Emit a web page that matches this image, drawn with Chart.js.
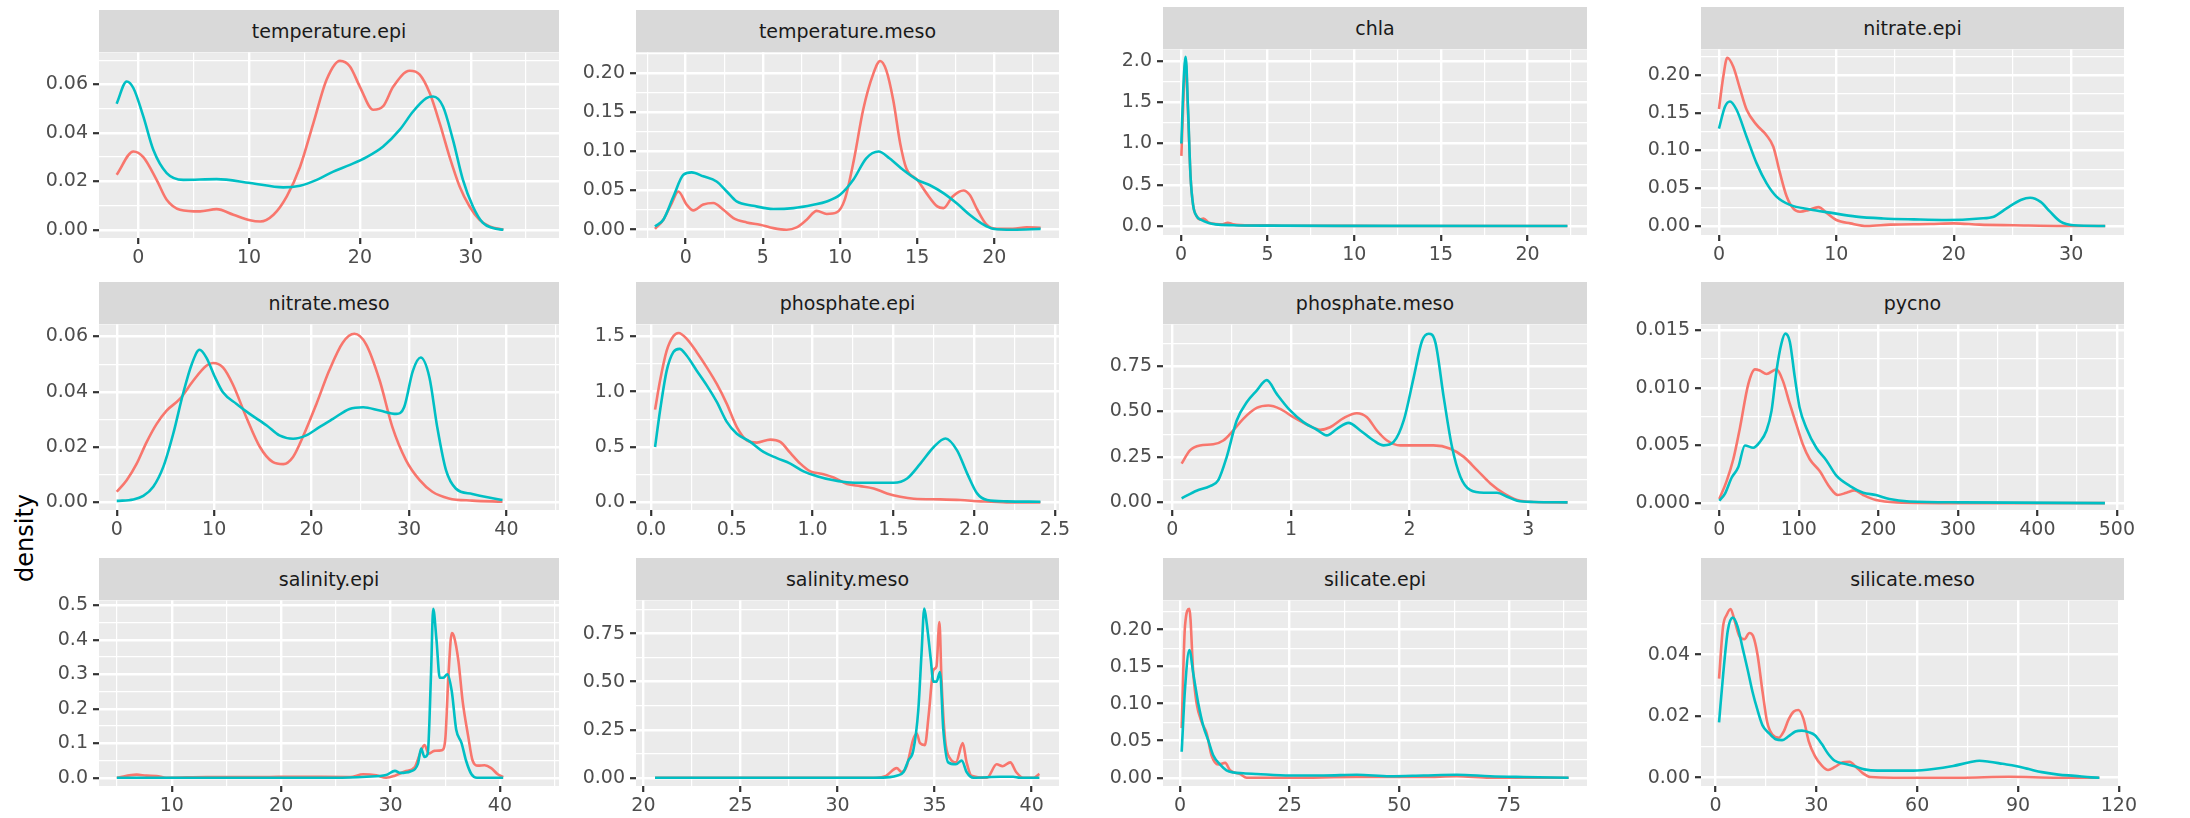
<!DOCTYPE html>
<html><head><meta charset="utf-8">
<script src="https://cdn.jsdelivr.net/npm/chart.js@4.4.1/dist/chart.umd.min.js"></script>
<style>
html,body{margin:0;padding:0;background:#fff;}
body{width:2190px;height:818px;overflow:hidden;position:relative;font-family:"DejaVu Sans",sans-serif;}
.strip{position:absolute;background:#D9D9D9;color:#1A1A1A;font-size:19px;display:flex;align-items:center;justify-content:center;white-space:nowrap;}
.wrap{position:absolute;}
.ytitle{position:absolute;font-size:24px;color:#000;transform:rotate(-90deg);transform-origin:center center;white-space:nowrap;}
</style></head><body>
<div class="ytitle" id="ytitle">density</div>
<script>
// ---------------- DATA ----------------
const panelTitles = ['temperature.epi','temperature.meso','chla','nitrate.epi','nitrate.meso','phosphate.epi','phosphate.meso','pycno','salinity.epi','salinity.meso','silicate.epi','silicate.meso'];

// temperature.epi
const tempEpiRedX = [-1.96,-0.45,0.45,1.65,2.56,3.76,5.57,7.07,8.58,10.08,11,12.2,13.4,14.6,15.8,17.0,18.2,19.1,20.0,21.2,22.1,23.0,24.5,25.4,26.3,27.2,28.1,29.0,29.9,30.8,31.7,32.95];
const tempEpiRedY = [0.0227,0.0323,0.030,0.0206,0.0124,0.0083,0.0076,0.0085,0.0062,0.0039,0.0034,0.0062,0.0138,0.026,0.044,0.062,0.0697,0.0674,0.059,0.0495,0.051,0.059,0.0656,0.064,0.0564,0.044,0.030,0.0179,0.0096,0.0041,0.0014,0.0];
const tempEpiTealX = [-1.96,-1.05,-0.45,0.45,1.35,2.56,4.06,7.07,10.08,13.09,14.6,16.1,17.6,19.1,20.6,22.1,23.6,24.8,26.0,26.6,27.5,28.4,29.3,30.2,31.1,32.0,32.95];
const tempEpiTealY = [0.052,0.0612,0.0585,0.0468,0.033,0.0234,0.0206,0.0209,0.0193,0.0175,0.0182,0.0206,0.024,0.0268,0.030,0.0344,0.0413,0.0488,0.0543,0.055,0.0509,0.0371,0.0206,0.0096,0.0028,0.0007,0.0];

// temperature.meso
const tempMesoRedX = [-1.99,-1.45,-0.9,-0.48,0.06,0.5,1.14,1.79,2.44,3.09,3.95,4.82,5.68,6.54,7.19,7.84,8.49,9.14,9.78,10.3,10.9,11.5,12.16,12.6,13.0,13.45,13.9,14.3,15.0,15.6,16.3,16.7,17.3,18.0,18.4,18.9,19.5,20.2,21.2,22.1,23.0];
const tempMesoRedY = [0.001,0.0127,0.034,0.0487,0.032,0.0246,0.032,0.034,0.0254,0.0148,0.0093,0.0064,0.002,0.0,0.003,0.0127,0.024,0.020,0.022,0.038,0.089,0.153,0.199,0.215,0.203,0.165,0.11,0.078,0.0636,0.0466,0.0297,0.0275,0.0424,0.05,0.0445,0.0254,0.0064,0.001,0.001,0.003,0.0025];
const tempMesoTealX = [-1.99,-1.45,-0.8,-0.15,0.39,1.14,2.0,2.66,3.3,4.38,5.68,6.98,8.27,9.14,10.0,10.86,11.7,12.5,13.2,14.1,15.0,15.8,16.7,17.6,18.4,19.3,19.9,21.2,23.0];
const tempMesoTealY = [0.004,0.0127,0.042,0.070,0.073,0.068,0.0614,0.0487,0.036,0.0305,0.0263,0.0275,0.0318,0.036,0.0445,0.0636,0.091,0.0996,0.091,0.076,0.0636,0.057,0.0466,0.033,0.019,0.0064,0.0013,0.0,0.001];

// chla
const chlaRedX = [0.02,0.15,0.27,0.4,0.55,0.7,0.9,1.1,1.3,1.6,2.0,2.4,2.7,3.0,4.0,5.0,6.0,10.0,15.0,22.3];
const chlaRedY = [0.85,1.6,2.0,1.4,0.6,0.25,0.12,0.08,0.09,0.04,0.025,0.02,0.04,0.02,0.008,0.01,0.003,0.001,0.0,0.0];
const chlaTealX = [0.02,0.15,0.27,0.4,0.55,0.7,0.9,1.2,1.6,2.0,3.0,5.0,10.0,22.3];
const chlaTealY = [1.0,1.75,2.05,1.45,0.6,0.25,0.12,0.07,0.035,0.02,0.01,0.004,0.001,0.0];

// nitrate.epi
const nitEpiRedX = [0,0.37,0.71,1.22,1.79,2.36,3.21,4.06,4.63,5.2,5.77,6.34,6.9,7.6,8.47,9.2,10.0,11.2,12.6,14.6,18,20,22.2,25.1,29.3,32.9];
const nitEpiRedY = [0.155,0.198,0.223,0.211,0.182,0.154,0.134,0.12,0.105,0.07,0.039,0.023,0.019,0.021,0.025,0.017,0.008,0.0035,0.0,0.0018,0.0026,0.0035,0.0018,0.001,0.0,0.0];
const nitEpiTealX = [0,0.51,0.94,1.5,2.36,3.21,4.06,4.9,6.05,7.76,9.46,11.7,14.0,16.6,19.4,22.2,23.4,24.5,25.7,26.5,27.4,28.2,29.1,30.2,32.9];
const nitEpiTealY = [0.129,0.158,0.165,0.154,0.118,0.083,0.0565,0.039,0.028,0.022,0.0177,0.0124,0.010,0.0088,0.008,0.010,0.0124,0.0234,0.0344,0.0375,0.032,0.019,0.0057,0.001,0.0];

// nitrate.meso
const nitMesoRedX = [0,1.02,2.05,3.07,4.1,5.12,6.48,7.85,9.2,9.9,10.9,11.9,13.3,14.7,16.0,17.1,18.1,19.1,20.5,21.8,23.2,24.4,25.6,27.0,28.3,29.7,31.1,32.4,34.1,36.5,39.6];
const nitMesoRedY = [0.0038,0.008,0.014,0.0218,0.0284,0.0332,0.0374,0.044,0.0494,0.0504,0.0488,0.0428,0.0308,0.020,0.0146,0.0138,0.0164,0.0236,0.0356,0.0476,0.0578,0.061,0.0572,0.044,0.0272,0.0152,0.008,0.0038,0.0014,0.0006,0.0002];
const nitMesoTealX = [0,1.7,2.73,3.75,4.78,5.8,6.8,7.7,8.5,9.2,10.1,10.9,12.3,13.65,15.4,16.7,18.1,19.45,20.8,22.2,23.9,25.3,27.0,28.7,29.5,30.4,31.2,32.1,32.9,33.8,34.8,36.5,38.2,39.6];
const nitMesoTealY = [0.0005,0.001,0.0023,0.0056,0.0128,0.0248,0.0392,0.050,0.0552,0.0524,0.0452,0.0398,0.0356,0.032,0.0278,0.0242,0.023,0.0242,0.0272,0.0302,0.0338,0.0344,0.0332,0.032,0.0344,0.0476,0.0524,0.0452,0.0272,0.0116,0.005,0.003,0.0017,0.0008];

// phosphate.epi
const phosEpiRedX = [0.025,0.056,0.097,0.138,0.17,0.22,0.283,0.345,0.407,0.469,0.531,0.593,0.655,0.738,0.8,0.862,0.924,0.986,1.068,1.13,1.213,1.295,1.378,1.46,1.543,1.626,1.79,1.915,2.04,2.2,2.41];
const phosEpiRedY = [0.838,1.10,1.37,1.50,1.53,1.48,1.357,1.22,1.07,0.89,0.68,0.56,0.54,0.567,0.546,0.447,0.35,0.28,0.255,0.225,0.165,0.147,0.126,0.081,0.051,0.033,0.027,0.021,0.009,0.0,0.0];
const phosEpiTealX = [0.025,0.056,0.097,0.138,0.176,0.22,0.283,0.345,0.407,0.469,0.531,0.614,0.696,0.779,0.862,0.944,1.027,1.13,1.233,1.378,1.502,1.585,1.667,1.75,1.822,1.894,1.957,2.018,2.08,2.2,2.41];
const phosEpiTealY = [0.50,0.83,1.19,1.357,1.387,1.327,1.19,1.057,0.907,0.727,0.62,0.547,0.456,0.40,0.35,0.28,0.237,0.20,0.18,0.177,0.177,0.216,0.35,0.50,0.577,0.47,0.26,0.081,0.021,0.009,0.006];

// phosphate.meso
const phosMesoRedX = [0.079,0.149,0.233,0.346,0.43,0.514,0.598,0.711,0.81,0.908,1.02,1.133,1.246,1.33,1.443,1.555,1.64,1.724,1.809,1.921,2.062,2.2,2.343,2.456,2.568,2.68,2.793,2.906,3.047,3.33];
const phosMesoRedY = [0.213,0.286,0.313,0.319,0.34,0.395,0.459,0.519,0.532,0.514,0.468,0.428,0.399,0.413,0.463,0.49,0.468,0.395,0.34,0.313,0.313,0.313,0.295,0.25,0.177,0.104,0.049,0.013,0.002,0.0];
const phosMesoTealX = [0.079,0.205,0.318,0.388,0.459,0.543,0.627,0.711,0.796,0.88,0.993,1.105,1.218,1.302,1.387,1.485,1.584,1.696,1.781,1.865,1.95,2.034,2.104,2.16,2.217,2.287,2.357,2.428,2.512,2.625,2.737,2.821,2.906,3.047,3.33];
const phosMesoTealY = [0.022,0.064,0.089,0.122,0.25,0.45,0.55,0.614,0.672,0.596,0.505,0.441,0.399,0.368,0.404,0.437,0.395,0.34,0.313,0.332,0.45,0.687,0.887,0.927,0.878,0.577,0.304,0.14,0.067,0.053,0.053,0.031,0.009,0.002,0.0];

// pycno
const pycnoRedX = [0,9.2,17.6,25.9,36.4,44.8,51,59.4,72,80,88.7,97,105,113.8,126,139,149,160,170,181,197,223,300,485];
const pycnoRedY = [0.00035,0.0019,0.0038,0.0065,0.0103,0.0116,0.0115,0.0112,0.0116,0.0106,0.0086,0.0068,0.0051,0.0038,0.0028,0.00136,0.0007,0.0009,0.0011,0.0007,0.00026,0.00006,0.0,0.0];
const pycnoTealX = [0,7,15.5,23.8,32.2,42.7,51,59.4,65.7,72,78,83,88.7,95,101,109.6,122,134.7,147,164,181,197,214,239,306,485];
const pycnoTealY = [0.0002,0.0008,0.0022,0.0031,0.005,0.0048,0.0053,0.0063,0.008,0.0115,0.0138,0.0147,0.014,0.0109,0.0083,0.0065,0.0048,0.0037,0.0024,0.0015,0.0009,0.0007,0.00035,0.00014,0.00006,0.0];

// salinity.epi
const salEpiRedX = [4.98,6.8,7.7,8.6,9.5,13.2,18.4,21.1,26.3,27.5,28.7,29.6,30.4,31.3,32.2,32.7,33.1,33.5,34.0,34.7,35.0,35.3,35.6,35.8,36.2,36.6,37.1,37.5,38.0,38.6,39.2,39.8,40.3];
const salEpiRedY = [0,0.009,0.006,0.005,0,0.002,0.002,0.003,0.002,0.01,0.007,0,0.006,0.018,0.03,0.07,0.095,0.07,0.078,0.08,0.11,0.3,0.42,0.41,0.34,0.22,0.12,0.05,0.035,0.036,0.028,0.01,0.002];
const salEpiTealX = [4.98,10,20,25,27.8,29.6,30.4,30.9,31.8,32.5,32.8,33.1,33.4,33.7,33.9,34.2,34.5,34.8,35.2,35.6,36.0,36.5,36.9,37.4,37.9,40.3];
const salEpiTealY = [0,0,0,0,0.003,0.008,0.02,0.014,0.018,0.04,0.085,0.06,0.07,0.3,0.49,0.40,0.29,0.29,0.3,0.25,0.14,0.1,0.05,0.01,0,0];

// salinity.meso
const salMesoRedX = [20.6,32.0,32.5,33.05,33.3,33.56,33.9,34.08,34.25,34.5,34.7,34.94,35.1,35.25,35.36,35.54,35.8,36.1,36.45,36.65,36.9,37.7,38.2,38.5,38.9,39.2,39.57,40.1,40.4];
const salMesoRedY = [0,0,0.01,0.05,0.03,0.06,0.2,0.23,0.18,0.17,0.33,0.56,0.58,0.81,0.5,0.2,0.1,0.08,0.18,0.08,0.01,0,0.07,0.06,0.08,0.03,0,0,0.02];
const salMesoTealX = [20.6,31.85,32.7,33.05,33.4,33.65,33.9,34.16,34.33,34.47,34.6,34.8,34.94,35.1,35.28,35.45,35.7,36.1,36.4,36.65,37.0,38.4,39.05,39.4,40.4];
const salMesoTealY = [0,0,0.003,0.01,0.03,0.09,0.14,0.35,0.65,0.88,0.8,0.62,0.5,0.5,0.55,0.25,0.08,0.07,0.09,0.03,0,0.005,0.005,0,0];

// silicate.epi
const silEpiRedX = [0.38,1.14,2.13,3.04,3.8,4.94,6.08,7.2,8.7,10.3,11.4,13.7,15.2,25.1,40.3,55.5,63.1,70.7,88.6];
const silEpiRedY = [0.067,0.205,0.228,0.14,0.1,0.075,0.06,0.03,0.018,0.02,0.01,0.005,0,0,0.001,0.001,0.002,0,0];
const silEpiTealX = [0.38,1.14,2.13,3.04,4.18,5.3,6.46,7.6,9.1,10.6,12.2,14.4,17.5,25.1,32.7,40.3,47.9,55.5,63.1,70.7,78.3,88.6];
const silEpiTealY = [0.035,0.12,0.1725,0.14,0.1,0.07,0.05,0.03,0.018,0.01,0.007,0.006,0.005,0.003,0.003,0.004,0.002,0.003,0.004,0.002,0.001,0];

// silicate.meso
const silMesoRedX = [1.07,2.25,3.4,4.5,5.7,7.1,8.6,10.1,11.2,12.5,14.0,15.4,16.9,18.9,20.3,21.8,23.3,24.7,26.2,27.7,29.6,31.6,33.5,35.5,37.9,39.9,41.8,43.8,46.2,53.1,72.6,87.3,102,114.2];
const silMesoRedY = [0.0322,0.049,0.053,0.0548,0.051,0.046,0.045,0.047,0.046,0.04,0.028,0.018,0.014,0.013,0.015,0.019,0.0215,0.022,0.019,0.012,0.007,0.004,0.0025,0.0035,0.005,0.0052,0.0035,0.0015,0.0002,0,0,0.0003,0,0];
const silMesoTealX = [1.07,2.25,3.7,5.2,6.6,8.1,9.6,11.0,12.5,14.0,15.9,17.9,19.8,21.8,23.8,25.7,27.7,29.6,31.6,33.5,35.5,38.4,41.4,44.3,48.2,53.1,58.9,64.8,70.7,75.6,78.5,81.4,85.4,89.3,93.2,97.1,102,106.9,111.8,114.2];
const silMesoTealY = [0.018,0.033,0.048,0.052,0.049,0.042,0.035,0.028,0.022,0.017,0.0145,0.0125,0.0122,0.0135,0.015,0.0153,0.0148,0.0138,0.011,0.0078,0.0055,0.0045,0.0037,0.0027,0.0023,0.0023,0.0023,0.0028,0.0038,0.005,0.0055,0.0052,0.0045,0.0038,0.0028,0.0018,0.001,0.0006,0.0001,0];

// tick labels
const xTickLabels = [
  ['0','10','20','30'], ['0','5','10','15','20'], ['0','5','10','15','20'], ['0','10','20','30'],
  ['0','10','20','30','40'], ['0.0','0.5','1.0','1.5','2.0','2.5'], ['0','1','2','3'], ['0','100','200','300','400','500'],
  ['10','20','30','40'], ['20','25','30','35','40'], ['0','25','50','75'], ['0','30','60','90','120']
];
const yTickLabels = [
  ['0.00','0.02','0.04','0.06'], ['0.00','0.05','0.10','0.15','0.20'], ['0.0','0.5','1.0','1.5','2.0'], ['0.00','0.05','0.10','0.15','0.20'],
  ['0.00','0.02','0.04','0.06'], ['0.0','0.5','1.0','1.5'], ['0.00','0.25','0.50','0.75'], ['0.000','0.005','0.010','0.015'],
  ['0.0','0.1','0.2','0.3','0.4','0.5'], ['0.00','0.25','0.50','0.75'], ['0.00','0.05','0.10','0.15','0.20'], ['0.00','0.02','0.04']
];
// axis ranges (ggplot expanded limits)
const xLimits = [[-3.55,37.97],[-3.22,24.19],[-1.04,23.43],[-1.53,34.5],[-1.82,45.4],[-0.093,2.525],[-0.078,3.494],[-23,509],[3.35,45.4],[19.62,41.41],[-3.88,92.8],[-4.3,120.1]];
const yLimits = [[-0.0034,0.0732],[-0.0106,0.226],[-0.109,2.14],[-0.0119,0.234],[-0.0028,0.0644],[-0.069,1.608],[-0.042,0.978],[-0.0006,0.0155],[-0.024,0.5145],[-0.043,0.923],[-0.0112,0.2395],[-0.0027,0.0576]];

const seriesRed = [
  [tempEpiRedX,tempEpiRedY],[tempMesoRedX,tempMesoRedY],[chlaRedX,chlaRedY],[nitEpiRedX,nitEpiRedY],
  [nitMesoRedX,nitMesoRedY],[phosEpiRedX,phosEpiRedY],[phosMesoRedX,phosMesoRedY],[pycnoRedX,pycnoRedY],
  [salEpiRedX,salEpiRedY],[salMesoRedX,salMesoRedY],[silEpiRedX,silEpiRedY],[silMesoRedX,silMesoRedY]
];
const seriesTeal = [
  [tempEpiTealX,tempEpiTealY],[tempMesoTealX,tempMesoTealY],[chlaTealX,chlaTealY],[nitEpiTealX,nitEpiTealY],
  [nitMesoTealX,nitMesoTealY],[phosEpiTealX,phosEpiTealY],[phosMesoTealX,phosMesoTealY],[pycnoTealX,pycnoTealY],
  [salEpiTealX,salEpiTealY],[salMesoTealX,salMesoTealY],[silEpiTealX,silEpiTealY],[silMesoTealX,silMesoTealY]
];

// ---------------- LAYOUT ----------------
const colEdges = [[99,559],[636,1059],[1163,1587],[1701,2124]];
const rowEdges = [ // [stripTop, panelTop, panelBottom] per column
  [[10,52,238],[10,52,238],[7,49,235],[7,49,235]],
  [[282,324,510],[282,324,510],[282,324,510],[282,324,510]],
  [[558,600,786],[558,600,786],[558,600,786],[558,600,786]]
];
const RED = '#F8766D', TEAL = '#00BFC4';
const FONT = 'DejaVu Sans';

const panelBg = {
  id: 'panelBg',
  beforeDraw(chart) {
    const {ctx, chartArea: a} = chart;
    ctx.save(); ctx.fillStyle = '#EBEBEB';
    ctx.fillRect(a.left, a.top, a.right - a.left, a.bottom - a.top);
    ctx.restore();
  }
};

function buildTicks(labels, lim) {
  const vals = labels.map(Number);
  const step = vals[1] - vals[0];
  const n = vals.length;
  const out = [];
  for (let k = -1; k <= 2 * (n - 1) + 1; k++) {
    const v = vals[0] + k * step / 2;
    if (v < lim[0] - 1e-9 || v > lim[1] + 1e-9) continue;
    const major = (k % 2 === 0) && k >= 0 && k / 2 <= n - 1;
    out.push({value: v, minor: !major, lab: major ? labels[k / 2] : ''});
  }
  return out;
}

function axisOpts(labels, lim, isX, fixed) {
  return {
    type: 'linear',
    min: lim[0], max: lim[1],
    afterBuildTicks: s => { s.ticks = buildTicks(labels, lim); },
    afterFit: s => { if (isX) s.height = fixed; else s.width = fixed; },
    border: {display: false},
    grid: {
      color: '#FFFFFF',
      lineWidth: c => (c.tick && c.tick.minor) ? 1.2 : 2.4,
      drawTicks: true,
      tickLength: 6,
      tickWidth: 2.2,
      tickColor: c => (c.tick && c.tick.minor) ? 'rgba(0,0,0,0)' : '#333333'
    },
    ticks: {
      autoSkip: false, maxRotation: 0, minRotation: 0,
      padding: isX ? 3 : 5,
      color: '#4D4D4D',
      font: {family: FONT, size: 19},
      callback: (v, i, t) => (t[i] && t[i].lab !== undefined) ? t[i].lab : ''
    }
  };
}

const L = 110, T = 16, B = 42;
const rightRoom = [30,30,30,30, 30,30,30,30, 30,30,30,16];
for (let i = 0; i < 12; i++) {
  const col = i % 4, row = Math.floor(i / 4);
  const [l, r] = colEdges[col];
  const [st, t, b] = rowEdges[row][col];
  const R = rightRoom[i];
  // strip
  const s = document.createElement('div');
  s.className = 'strip';
  s.style.left = l + 'px'; s.style.top = st + 'px';
  s.style.width = (r - l) + 'px'; s.style.height = (t - st) + 'px';
  s.textContent = panelTitles[i];
  document.body.appendChild(s);
  // chart
  const W = (r - l) + L + R, H = (b - t) + T + B;
  const wrap = document.createElement('div');
  wrap.className = 'wrap';
  wrap.style.left = (l - L) + 'px'; wrap.style.top = (t - T) + 'px';
  wrap.style.width = W + 'px'; wrap.style.height = H + 'px';
  const cv = document.createElement('canvas');
  cv.width = W; cv.height = H;
  cv.style.width = W + 'px'; cv.style.height = H + 'px';
  wrap.appendChild(cv);
  document.body.appendChild(wrap);
  const toPts = (xs, ys) => xs.map((x, j) => ({x: x, y: ys[j]}));
  new Chart(cv, {
    type: 'line',
    data: {
      datasets: [
        {label: 'B', data: toPts(seriesTeal[i][0], seriesTeal[i][1]), borderColor: TEAL, borderWidth: 2.6, pointRadius: 0, fill: false, cubicInterpolationMode: 'monotone'},
        {label: 'A', data: toPts(seriesRed[i][0], seriesRed[i][1]), borderColor: RED, borderWidth: 2.6, pointRadius: 0, fill: false, cubicInterpolationMode: 'monotone'}
      ]
    },
    options: {
      responsive: false, animation: false, devicePixelRatio: 1,
      layout: {padding: {top: T, right: R, left: 0, bottom: 0}, autoPadding: false},
      plugins: {legend: {display: false}, tooltip: {enabled: false}, title: {display: false}},
      events: [],
      scales: {
        x: axisOpts(xTickLabels[i], xLimits[i], true, B),
        y: axisOpts(yTickLabels[i], yLimits[i], false, L)
      }
    },
    plugins: [panelBg]
  });
}
// y-axis title
const yt = document.getElementById('ytitle');
yt.style.left = (25 - 45) + 'px';
yt.style.top = (538 - 15) + 'px';
yt.style.width = '90px'; yt.style.height = '30px';
yt.style.lineHeight = '30px'; yt.style.textAlign = 'center';
</script>
</body></html>
